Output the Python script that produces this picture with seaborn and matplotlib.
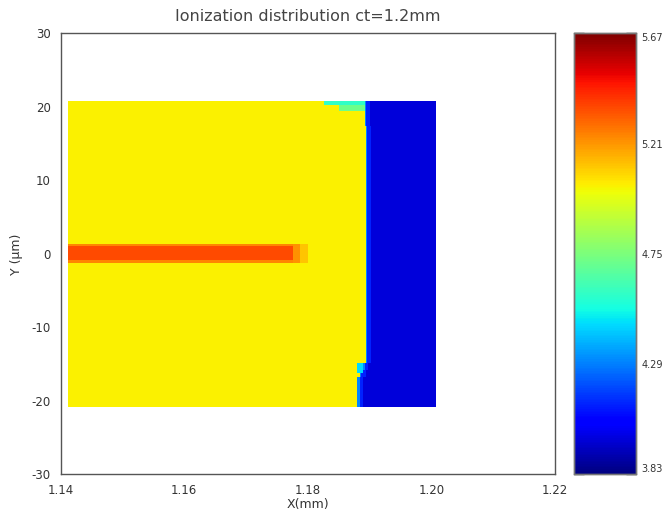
import numpy as np
import pandas as pd
import seaborn as sns
import matplotlib.pyplot as plt
from matplotlib.ticker import MultipleLocator

# Limites dos eixos e da caixa de dados
x_lim = [1.14, 1.22]
y_lim = [-30.0, 30.0]
box_x = [1.1413, 1.2008]
box_y = [-20.8, 20.8]

# Valores das regioes
val_yellow = 5.035
val_blue = 3.98
val_edge = [4.30, 4.12]          # faixa de transicao logo a direita da frente
edge_width = [0.0003, 0.0007]

# Frente de ionizacao (faixas em y, posicao x da frente)
front_y_edges = [-20.8, -16.8, -15.8, -14.8, 17.5, 20.8]
front_x = [1.1881, 1.1884, 1.1888, 1.1893, 1.1891]

# Faixa vermelha perto de y=0
stripe_y_edges = [-1.3, -0.8, 0.9, 1.45]
stripe_vals = [5.24, 5.36, 5.24]
stripe_x_end = [1.1776, 1.1788, 1.1800]
stripe_fade_vals = [5.22, 5.12]

# Manchas ciano na frente
patch_x0 = [1.1825, 1.1850, 1.1881]
patch_x1 = [1.1892, 1.1892, 1.1889]
patch_y0 = [20.2, 19.3, -16.3]
patch_y1 = [20.8, 20.2, -14.9]
patch_vals = [4.58, 4.72, 4.45]

vmin, vmax = 3.83, 5.67
x_ticks = [1.14, 1.16, 1.18, 1.20, 1.22]
y_ticks = [30, 20, 10, 0, -10, -20, -30]
cbar_ticks = [3.83, 4.29, 4.75, 5.21, 5.67]

# Grade
dx = 0.0002
dy = 0.2
nx = int(round((x_lim[1] - x_lim[0]) / dx))
ny = int(round((y_lim[1] - y_lim[0]) / dy))
xc = x_lim[0] + dx * (np.arange(nx) + 0.5)
yc = y_lim[1] - dy * (np.arange(ny) + 0.5)   # de cima para baixo
X, Y = np.meshgrid(xc, yc)

grid = np.full((ny, nx), np.nan)
inside = (X >= box_x[0]) & (X <= box_x[1]) & (Y >= box_y[0]) & (Y <= box_y[1])
grid[inside] = val_yellow

for i in range(len(front_x)):
    band = inside & (Y >= front_y_edges[i]) & (Y < front_y_edges[i + 1] + 1e-9)
    fx = front_x[i]
    grid[band & (X >= fx)] = val_blue
    grid[band & (X >= fx) & (X < fx + edge_width[0] + edge_width[1])] = val_edge[1]
    grid[band & (X >= fx) & (X < fx + edge_width[0])] = val_edge[0]

for i in range(len(stripe_vals)):
    band = inside & (Y >= stripe_y_edges[i]) & (Y < stripe_y_edges[i + 1])
    grid[band & (X < stripe_x_end[0])] = stripe_vals[i]
    for j in range(len(stripe_fade_vals)):
        grid[band & (X >= stripe_x_end[j]) & (X < stripe_x_end[j + 1])] = stripe_fade_vals[j]

for i in range(len(patch_vals)):
    m = inside & (X >= patch_x0[i]) & (X < patch_x1[i]) & (Y >= patch_y0[i]) & (Y < patch_y1[i])
    grid[m] = patch_vals[i]

df = pd.DataFrame(grid, index=np.round(yc, 2), columns=np.round(xc, 5))

sns.set_style("white")
plt.rcParams['font.family'] = ['DejaVu Sans']

fig = plt.figure(figsize=(6.65, 5.11), dpi=100)
ax = fig.add_axes([0.0913, 0.0718, 0.7433, 0.863])
cax = fig.add_axes([0.863, 0.0718, 0.0932, 0.863])

sns.heatmap(df, ax=ax, cbar_ax=cax, cmap='jet', vmin=vmin, vmax=vmax,
            xticklabels=False, yticklabels=False, linewidths=0, rasterized=True)

ax.set_xticks([(v - x_lim[0]) / dx for v in x_ticks])
ax.set_xticklabels(["%.2f" % v for v in x_ticks], fontsize=8.5, color='#333333')
ax.set_yticks([(y_lim[1] - v) / dy for v in y_ticks])
ax.set_yticklabels([str(v) for v in y_ticks], fontsize=8.5, color='#333333', rotation=0)
ax.tick_params(axis='both', length=0, pad=7)
for s in ax.spines.values():
    s.set_visible(True)
    s.set_color('#555555')
    s.set_linewidth(1.0)

ax.set_xlabel("X(mm)", fontsize=9, color='#333333', labelpad=1)
ax.set_ylabel("Y (\u03bcm)", fontsize=9, color='#333333', labelpad=6)
fig.text(0.463, 0.968, "Ionization distribution ct=1.2mm", ha='center', va='center',
         fontsize=11.5, color='#444444')

cax.set_yticks(cbar_ticks)
labels = cax.set_yticklabels(["%.2f" % v for v in cbar_ticks], fontsize=7, color='#333333')
labels[0].set_va('bottom')
labels[-1].set_va('top')
cax.yaxis.set_minor_locator(MultipleLocator(0.046))
cax.tick_params(which='major', direction='in', left=True, right=True, length=7, width=1, pad=4)
cax.tick_params(which='minor', direction='in', left=True, right=True, length=4, width=1)
for s in cax.spines.values():
    s.set_visible(True)
    s.set_color('#777777')
    s.set_linewidth(1.0)

plt.savefig("out.png", dpi=100)
